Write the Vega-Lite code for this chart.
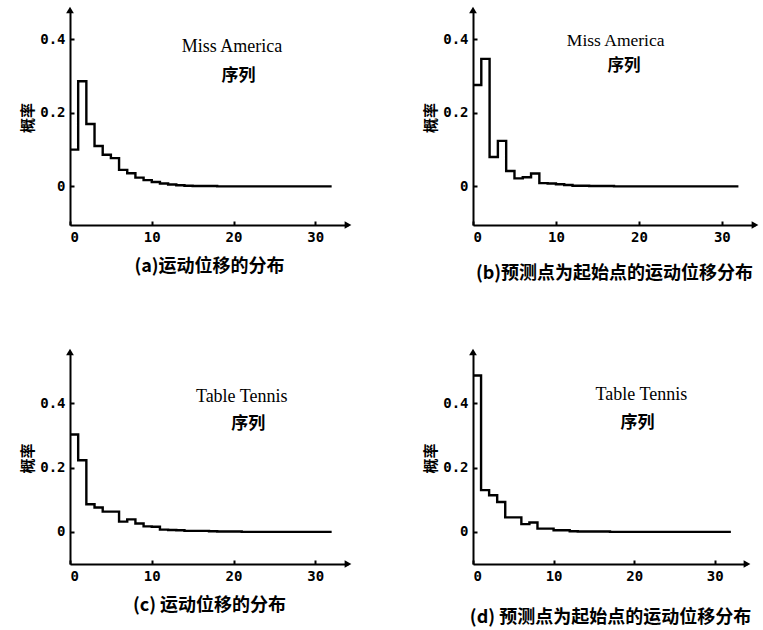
{
  "$schema": "https://vega.github.io/schema/vega-lite/v6.json",
  "padding": {"left": 20, "top": 6, "right": 2, "bottom": 2},
  "background": "white",
  "config": {
    "view": {"stroke": null},
    "axis": {
      "grid": false,
      "domainColor": "black",
      "domainWidth": 2,
      "tickColor": "black",
      "tickWidth": 2,
      "tickSize": -4,
      "labelPadding": 9,
      "labelColor": "black",
      "labelFont": "DejaVu Sans Mono",
      "labelFontWeight": "bold",
      "labelFontSize": 14,
      "titleColor": "black",
      "titleFont": "Noto Sans CJK SC",
      "titleFontWeight": "bold"
    }
  },
  "datasets": {
    "a": [
      {"d": 0, "p": 0.100}, {"d": 1, "p": 0.286}, {"d": 2, "p": 0.170}, {"d": 3, "p": 0.110},
      {"d": 4, "p": 0.086}, {"d": 5, "p": 0.077}, {"d": 6, "p": 0.045}, {"d": 7, "p": 0.036},
      {"d": 8, "p": 0.024}, {"d": 9, "p": 0.017}, {"d": 10, "p": 0.012}, {"d": 11, "p": 0.008},
      {"d": 12, "p": 0.005}, {"d": 13, "p": 0.003}, {"d": 14, "p": 0.002}, {"d": 15, "p": 0.001},
      {"d": 16, "p": 0.001}, {"d": 17, "p": 0.001}, {"d": 18, "p": 0.0}, {"d": 19, "p": 0.0},
      {"d": 20, "p": 0.0}, {"d": 21, "p": 0.0}, {"d": 22, "p": 0.0}, {"d": 23, "p": 0.0},
      {"d": 24, "p": 0.0}, {"d": 25, "p": 0.0}, {"d": 26, "p": 0.0}, {"d": 27, "p": 0.0},
      {"d": 28, "p": 0.0}, {"d": 29, "p": 0.0}, {"d": 30, "p": 0.0}, {"d": 31, "p": 0.0},
      {"d": 32, "p": 0.0}
    ],
    "b": [
      {"d": 0, "p": 0.276}, {"d": 1, "p": 0.347}, {"d": 2, "p": 0.080}, {"d": 3, "p": 0.124},
      {"d": 4, "p": 0.042}, {"d": 5, "p": 0.022}, {"d": 6, "p": 0.025}, {"d": 7, "p": 0.035},
      {"d": 8, "p": 0.009}, {"d": 9, "p": 0.008}, {"d": 10, "p": 0.006}, {"d": 11, "p": 0.004},
      {"d": 12, "p": 0.002}, {"d": 13, "p": 0.002}, {"d": 14, "p": 0.001}, {"d": 15, "p": 0.001},
      {"d": 16, "p": 0.001}, {"d": 17, "p": 0.0}, {"d": 18, "p": 0.0}, {"d": 19, "p": 0.0},
      {"d": 20, "p": 0.0}, {"d": 21, "p": 0.0}, {"d": 22, "p": 0.0}, {"d": 23, "p": 0.0},
      {"d": 24, "p": 0.0}, {"d": 25, "p": 0.0}, {"d": 26, "p": 0.0}, {"d": 27, "p": 0.0},
      {"d": 28, "p": 0.0}, {"d": 29, "p": 0.0}, {"d": 30, "p": 0.0}, {"d": 31, "p": 0.0},
      {"d": 32, "p": 0.0}
    ],
    "c": [
      {"d": 0, "p": 0.303}, {"d": 1, "p": 0.223}, {"d": 2, "p": 0.086}, {"d": 3, "p": 0.076},
      {"d": 4, "p": 0.063}, {"d": 5, "p": 0.063}, {"d": 6, "p": 0.032}, {"d": 7, "p": 0.039},
      {"d": 8, "p": 0.026}, {"d": 9, "p": 0.017}, {"d": 10, "p": 0.016}, {"d": 11, "p": 0.007},
      {"d": 12, "p": 0.006}, {"d": 13, "p": 0.005}, {"d": 14, "p": 0.003}, {"d": 15, "p": 0.003},
      {"d": 16, "p": 0.003}, {"d": 17, "p": 0.002}, {"d": 18, "p": 0.001}, {"d": 19, "p": 0.001},
      {"d": 20, "p": 0.001}, {"d": 21, "p": 0.0}, {"d": 22, "p": 0.0}, {"d": 23, "p": 0.0},
      {"d": 24, "p": 0.0}, {"d": 25, "p": 0.0}, {"d": 26, "p": 0.0}, {"d": 27, "p": 0.0},
      {"d": 28, "p": 0.0}, {"d": 29, "p": 0.0}, {"d": 30, "p": 0.0}, {"d": 31, "p": 0.0},
      {"d": 32, "p": 0.0}
    ],
    "d": [
      {"d": 0, "p": 0.487}, {"d": 1, "p": 0.130}, {"d": 2, "p": 0.114}, {"d": 3, "p": 0.093},
      {"d": 4, "p": 0.045}, {"d": 5, "p": 0.045}, {"d": 6, "p": 0.024}, {"d": 7, "p": 0.029},
      {"d": 8, "p": 0.010}, {"d": 9, "p": 0.010}, {"d": 10, "p": 0.005}, {"d": 11, "p": 0.005},
      {"d": 12, "p": 0.002}, {"d": 13, "p": 0.001}, {"d": 14, "p": 0.001}, {"d": 15, "p": 0.001},
      {"d": 16, "p": 0.001}, {"d": 17, "p": 0.0}, {"d": 18, "p": 0.0}, {"d": 19, "p": 0.0},
      {"d": 20, "p": 0.0}, {"d": 21, "p": 0.0}, {"d": 22, "p": 0.0}, {"d": 23, "p": 0.0},
      {"d": 24, "p": 0.0}, {"d": 25, "p": 0.0}, {"d": 26, "p": 0.0}, {"d": 27, "p": 0.0},
      {"d": 28, "p": 0.0}, {"d": 29, "p": 0.0}, {"d": 30, "p": 0.0}, {"d": 31, "p": 0.0},
      {"d": 32, "p": 0.0}
    ],
    "one": [{}]
  },
  "vconcat": [
    {
      "spacing": 71,
      "hconcat": [
        {
          "width": 278, "height": 215,
          "layer": [
            {
              "data": {"name": "a"},
              "mark": {"type": "line", "interpolate": "step-after", "color": "black", "strokeWidth": 2.4},
              "encoding": {
                "x": {"field": "d", "type": "quantitative", "scale": {"domain": [0, 34], "nice": false},
                      "axis": {"values": [0, 10, 20, 30], "title": "(a)运动位移的分布", "titleFontSize": 18, "titlePadding": 13}},
                "y": {"field": "p", "type": "quantitative", "scale": {"domain": [-0.105, 0.48], "nice": false},
                      "axis": {"values": [0, 0.2, 0.4], "format": ".1~f", "title": "概率", "titleFontSize": 15, "titlePadding": 4}}
              }
            },
            {"data": {"name": "one"},
             "mark": {"type": "text", "font": "Liberation Serif", "fontSize": 18, "color": "black"},
             "encoding": {"x": {"datum": 19.8}, "y": {"datum": 0.38}, "text": {"value": "Miss America"}}},
            {"data": {"name": "one"},
             "mark": {"type": "text", "font": "Noto Sans CJK SC", "fontWeight": "bold", "fontSize": 17, "color": "black"},
             "encoding": {"x": {"datum": 20.6}, "y": {"datum": 0.30}, "text": {"value": "序列"}}},
            {"data": {"name": "one"},
             "mark": {"type": "point", "shape": "triangle-up", "filled": true, "color": "black", "size": 60, "opacity": 1},
             "encoding": {"x": {"datum": 0}, "y": {"datum": 0.48}}},
            {"data": {"name": "one"},
             "mark": {"type": "point", "shape": "triangle-right", "filled": true, "color": "black", "size": 60, "opacity": 1},
             "encoding": {"x": {"datum": 34}, "y": {"datum": -0.105}}}
          ]
        },
        {
          "width": 282, "height": 215,
          "layer": [
            {
              "data": {"name": "b"},
              "mark": {"type": "line", "interpolate": "step-after", "color": "black", "strokeWidth": 2.4},
              "encoding": {
                "x": {"field": "d", "type": "quantitative", "scale": {"domain": [0, 34], "nice": false},
                      "axis": {"values": [0, 10, 20, 30], "title": "(b)预测点为起始点的运动位移分布", "titleFontSize": 18, "titlePadding": 20}},
                "y": {"field": "p", "type": "quantitative", "scale": {"domain": [-0.105, 0.48], "nice": false},
                      "axis": {"values": [0, 0.2, 0.4], "format": ".1~f", "title": "概率", "titleFontSize": 15, "titlePadding": 4}}
              }
            },
            {"data": {"name": "one"},
             "mark": {"type": "text", "font": "Liberation Serif", "fontSize": 17.5, "color": "black"},
             "encoding": {"x": {"datum": 17.2}, "y": {"datum": 0.395}, "text": {"value": "Miss America"}}},
            {"data": {"name": "one"},
             "mark": {"type": "text", "font": "Noto Sans CJK SC", "fontWeight": "bold", "fontSize": 16.5, "color": "black"},
             "encoding": {"x": {"datum": 18.2}, "y": {"datum": 0.327}, "text": {"value": "序列"}}},
            {"data": {"name": "one"},
             "mark": {"type": "point", "shape": "triangle-up", "filled": true, "color": "black", "size": 60, "opacity": 1},
             "encoding": {"x": {"datum": 0}, "y": {"datum": 0.48}}},
            {"data": {"name": "one"},
             "mark": {"type": "point", "shape": "triangle-right", "filled": true, "color": "black", "size": 60, "opacity": 1},
             "encoding": {"x": {"datum": 34}, "y": {"datum": -0.105}}}
          ]
        }
      ]
    },
    {
      "spacing": 71,
      "hconcat": [
        {
          "width": 278, "height": 212,
          "layer": [
            {
              "data": {"name": "c"},
              "mark": {"type": "line", "interpolate": "step-after", "color": "black", "strokeWidth": 2.4},
              "encoding": {
                "x": {"field": "d", "type": "quantitative", "scale": {"domain": [0, 34], "nice": false},
                      "axis": {"values": [0, 10, 20, 30], "title": "(c) 运动位移的分布", "titleFontSize": 18, "titlePadding": 13}},
                "y": {"field": "p", "type": "quantitative", "scale": {"domain": [-0.1, 0.56], "nice": false},
                      "axis": {"values": [0, 0.2, 0.4], "format": ".1~f", "title": "概率", "titleFontSize": 15, "titlePadding": 4}}
              }
            },
            {"data": {"name": "one"},
             "mark": {"type": "text", "font": "Liberation Serif", "fontSize": 18, "color": "black"},
             "encoding": {"x": {"datum": 21}, "y": {"datum": 0.42}, "text": {"value": "Table Tennis"}}},
            {"data": {"name": "one"},
             "mark": {"type": "text", "font": "Noto Sans CJK SC", "fontWeight": "bold", "fontSize": 17, "color": "black"},
             "encoding": {"x": {"datum": 21.8}, "y": {"datum": 0.335}, "text": {"value": "序列"}}},
            {"data": {"name": "one"},
             "mark": {"type": "point", "shape": "triangle-up", "filled": true, "color": "black", "size": 60, "opacity": 1},
             "encoding": {"x": {"datum": 0}, "y": {"datum": 0.56}}},
            {"data": {"name": "one"},
             "mark": {"type": "point", "shape": "triangle-right", "filled": true, "color": "black", "size": 60, "opacity": 1},
             "encoding": {"x": {"datum": 34}, "y": {"datum": -0.1}}}
          ]
        },
        {
          "width": 274, "height": 212,
          "layer": [
            {
              "data": {"name": "d"},
              "mark": {"type": "line", "interpolate": "step-after", "color": "black", "strokeWidth": 2.4},
              "encoding": {
                "x": {"field": "d", "type": "quantitative", "scale": {"domain": [0, 34], "nice": false},
                      "axis": {"values": [0, 10, 20, 30], "title": "(d) 预测点为起始点的运动位移分布", "titleFontSize": 18, "titlePadding": 25}},
                "y": {"field": "p", "type": "quantitative", "scale": {"domain": [-0.1, 0.56], "nice": false},
                      "axis": {"values": [0, 0.2, 0.4], "format": ".1~f", "title": "概率", "titleFontSize": 15, "titlePadding": 4}}
              }
            },
            {"data": {"name": "one"},
             "mark": {"type": "text", "font": "Liberation Serif", "fontSize": 18, "color": "black"},
             "encoding": {"x": {"datum": 20.9}, "y": {"datum": 0.425}, "text": {"value": "Table Tennis"}}},
            {"data": {"name": "one"},
             "mark": {"type": "text", "font": "Noto Sans CJK SC", "fontWeight": "bold", "fontSize": 17, "color": "black"},
             "encoding": {"x": {"datum": 20.4}, "y": {"datum": 0.34}, "text": {"value": "序列"}}},
            {"data": {"name": "one"},
             "mark": {"type": "point", "shape": "triangle-up", "filled": true, "color": "black", "size": 60, "opacity": 1},
             "encoding": {"x": {"datum": 0}, "y": {"datum": 0.56}}},
            {"data": {"name": "one"},
             "mark": {"type": "point", "shape": "triangle-right", "filled": true, "color": "black", "size": 60, "opacity": 1},
             "encoding": {"x": {"datum": 34}, "y": {"datum": -0.1}}}
          ]
        }
      ]
    }
  ],
  "spacing": 66
}
